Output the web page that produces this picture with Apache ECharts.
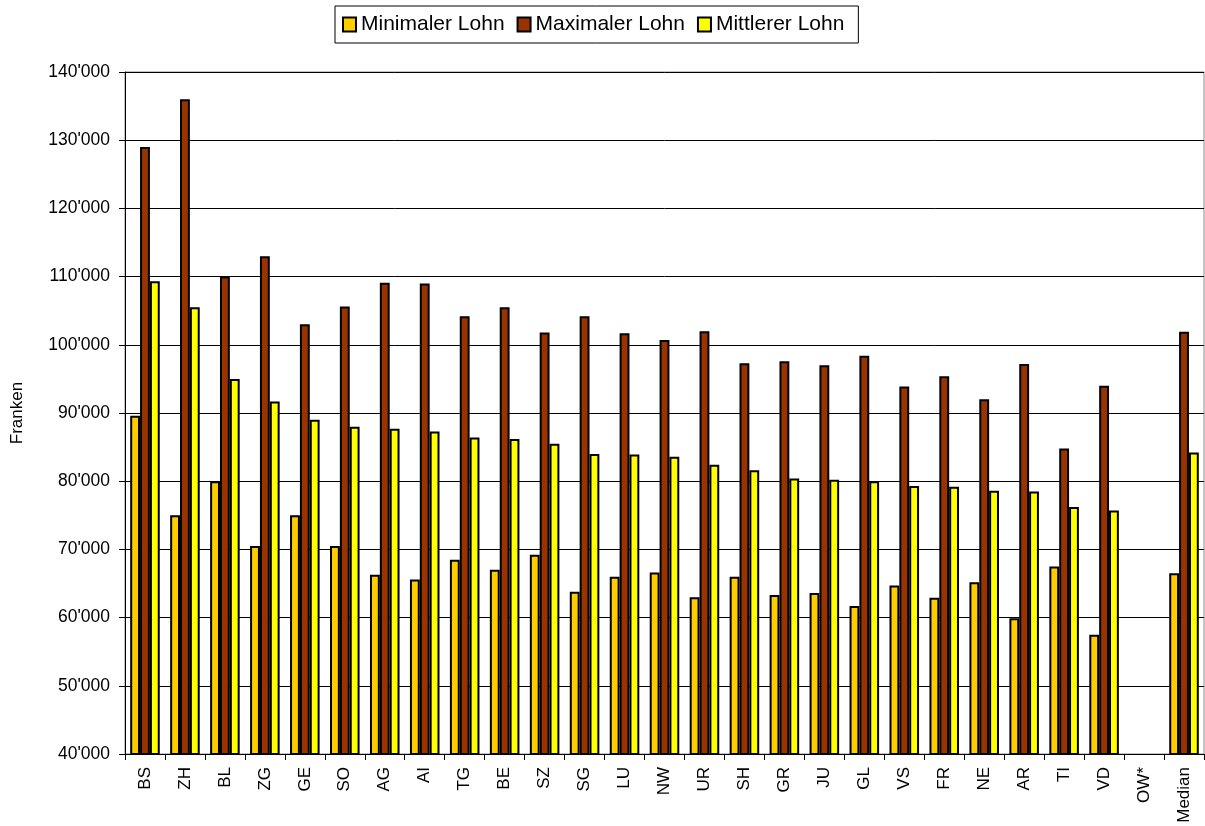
<!DOCTYPE html>
<html>
<head>
<meta charset="utf-8">
<script src="https://cdn.jsdelivr.net/npm/echarts@6/dist/echarts.min.js"></script>
<style>
html,body{margin:0;padding:0;background:#fff;}
#chart{width:1205px;height:826px;}
</style>
</head>
<body>
<div id="chart"></div>
<script>
var kantone = ['BS','ZH','BL','ZG','GE','SO','AG','AI','TG','BE','SZ','SG','LU','NW','UR','SH','GR','JU','GL','VS','FR','NE','AR','TI','VD','OW*','Median']
var minLohn = [89600,75000,80000,70500,75000,70500,66300,65600,68500,67000,69200,63800,66000,66600,63000,66000,63300,63600,61700,64700,62900,65200,59900,67500,57500,null,66500]
var maxLohn = [129000,136000,110000,113000,103000,105600,109100,109000,104200,105500,101800,104200,101700,100700,102000,97300,97600,97000,98400,93900,95400,92000,97200,84800,94000,null,101900]
var mittLohn = [109300,105500,95000,91700,89000,88000,87700,87300,86400,86200,85500,84000,83900,83600,82400,81600,80400,80200,80000,79300,79200,78600,78500,76200,75700,null,84200]

var chart = echarts.init(document.getElementById('chart'))
var font = 'Liberation Sans, Arial, sans-serif'

function bar(name, data, color){
    return {
        name: name,
        type: 'bar',
        data: data,
        barGap: '0%',
        barCategoryGap: '26%',
        itemStyle: {color: color, borderColor: '#000', borderWidth: 2},
        emphasis: {disabled: true}
    }
}

var option = {
    animation: false,
    textStyle: {fontFamily: font},
    legend: {
        left: 335,
        top: 6,
        padding: [8, 14, 8, 7],
        itemGap: 12,
        itemWidth: 13,
        itemHeight: 14,
        icon: 'rect',
        borderColor: '#000',
        borderWidth: 1,
        backgroundColor: '#fff',
        textStyle: {fontSize: 21, color: '#000', fontFamily: font},
        data: ['Minimaler Lohn', 'Maximaler Lohn', 'Mittlerer Lohn']
    },
    grid: {
        left: 125, right: 1, top: 72, bottom: 72,
        show: true, borderColor: '#888', borderWidth: 1
    },
    xAxis: {
        type: 'category',
        data: kantone,
        axisLine: {lineStyle: {color: '#000', width: 1}},
        axisTick: {show: true, length: 6, lineStyle: {color: '#000'}},
        axisLabel: {rotate: 90, fontSize: 17, color: '#000', margin: 13, interval: 0}
    },
    yAxis: {
        type: 'value',
        min: 40000,
        max: 140000,
        interval: 10000,
        name: 'Franken',
        nameLocation: 'middle',
        nameGap: 99,
        nameTextStyle: {fontSize: 17, color: '#000'},
        axisLine: {show: true, lineStyle: {color: '#000'}},
        axisTick: {show: true, length: 6, lineStyle: {color: '#000'}},
        axisLabel: {
            fontSize: 17.5, color: '#000', margin: 15,
            formatter: function(v){
                return Math.round(v / 1000) + "'000"
            }
        },
        splitLine: {lineStyle: {color: '#000', width: 1}}
    },
    series: [
        bar('Minimaler Lohn', minLohn, '#ffcc00'),
        bar('Maximaler Lohn', maxLohn, '#993300'),
        bar('Mittlerer Lohn', mittLohn, '#ffff00')
    ]
}
chart.setOption(option)
</script>
</body>
</html>
